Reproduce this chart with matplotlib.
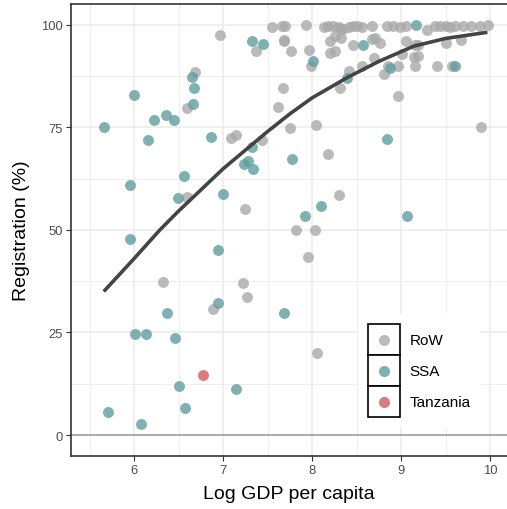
import matplotlib
matplotlib.use("Agg")
import matplotlib.pyplot as plt
from matplotlib.legend_handler import HandlerBase
from matplotlib.patches import Rectangle
from matplotlib.lines import Line2D

plt.rcParams['font.family'] = ['Liberation Sans', 'DejaVu Sans']

# ---------------- data ----------------
row_x = [6.60, 6.68, 6.97, 7.37, 7.68, 7.76, 7.97, 7.99, 8.20, 8.26, 8.33, 8.20, 8.26, 8.46,
         8.67, 8.71, 8.76, 8.70, 8.56, 8.42, 8.31, 8.81, 8.85, 8.97, 8.96, 9.06, 9.16, 9.19,
         9.01, 9.14, 9.19, 9.16, 9.40, 9.57, 9.51, 9.67, 9.29, 7.67, 7.62, 7.75, 8.04, 9.90,
         8.18, 8.30, 7.82, 8.03, 7.96, 8.05, 7.09, 7.15, 7.44, 7.25, 7.22, 7.27, 6.60, 6.33,
         6.89, 7.69,
         7.55, 7.66, 7.70, 7.93, 8.13, 8.18, 8.24, 8.30, 8.35, 8.41, 8.46, 8.50, 8.56, 8.67,
         8.84, 8.91, 8.99, 9.06, 9.38, 9.44, 9.51, 9.55, 9.61, 9.70, 9.78, 9.89, 9.98, 8.33]
row_y = [79.7, 88.4, 97.6, 93.6, 96.0, 93.6, 94.0, 90.1, 96.0, 97.2, 96.7, 93.1, 93.6, 95.2,
         96.6, 96.8, 95.5, 92.0, 90.1, 88.7, 84.6, 88.0, 90.1, 90.1, 82.6, 96.0, 95.0, 95.2,
         92.9, 92.1, 92.5, 89.9, 89.9, 89.9, 95.6, 96.4, 98.8, 84.6, 80.0, 74.8, 75.7, 75.0,
         68.5, 58.5, 50.0, 50.0, 43.3, 20.0, 72.4, 73.2, 72.0, 55.2, 37.0, 33.7, 58.0, 37.3,
         30.8, 96.2,
         99.6, 99.8, 99.8, 100.0, 99.4, 99.7, 99.8, 99.4, 99.0, 99.4, 99.7, 99.8, 99.6, 99.8,
         99.7, 99.8, 99.6, 99.8, 99.8, 99.8, 99.8, 99.6, 99.8, 99.8, 99.8, 99.8, 99.9, 98.9]

ssa_x = [5.66, 6.00, 6.23, 6.16, 6.36, 6.45, 6.66, 6.65, 6.67, 6.86, 7.33, 7.45, 8.01, 8.39,
         8.57, 9.17, 8.88, 9.61, 8.84, 7.78, 8.10, 7.92, 9.07, 7.69, 7.33, 7.23, 7.28, 7.34,
         7.00, 5.95, 6.56, 6.49, 5.95, 6.94, 6.94, 6.37, 6.01, 6.13, 6.46, 6.50, 7.15, 6.57,
         5.71, 6.08]
ssa_y = [75.2, 82.9, 76.7, 72.0, 78.0, 76.8, 80.7, 87.2, 84.7, 72.7, 96.0, 95.3, 91.1, 87.0,
         95.0, 100.0, 89.5, 89.9, 72.1, 67.2, 55.9, 53.5, 53.5, 29.8, 70.3, 66.1, 66.9, 64.9,
         58.7, 61.0, 63.2, 57.8, 47.9, 45.0, 32.2, 29.8, 24.6, 24.6, 23.6, 11.9, 11.2, 6.5,
         5.5, 2.8]

tz_x = [6.78]
tz_y = [14.6]

fit_x = [5.66, 6.0, 6.29, 6.5, 7.0, 7.5, 7.75, 8.0, 8.39, 8.75, 9.14, 9.5, 9.97]
fit_y = [35.0, 43.0, 50.0, 54.6, 64.9, 74.0, 78.3, 82.2, 87.1, 91.1, 94.8, 96.7, 98.2]

groups = ["RoW", "SSA", "Tanzania"]
colors = {"RoW": "darkgray", "SSA": "cadetblue", "Tanzania": "indianred"}
xticks = [6, 7, 8, 9, 10]
yticks = [0, 25, 50, 75, 100]

# ---------------- figure ----------------
fig = plt.figure(figsize=(5.07, 5.10), dpi=100)
ax = fig.add_axes([71/507, 1 - 457/510, 436/507, 452/510])

ax.set_xlim(5.292, 10.19)
ax.set_ylim(-5.12, 105.1)

ax.set_xticks(xticks)
ax.set_yticks(yticks)
ax.set_xticks([5.5, 6.5, 7.5, 8.5, 9.5], minor=True)
ax.set_yticks([12.5, 37.5, 62.5, 87.5], minor=True)
ax.grid(which='major', color='#EBEBEB', lw=1.1, zorder=0)
ax.grid(which='minor', color='#EBEBEB', lw=0.6, zorder=0)
ax.set_axisbelow(True)
ax.tick_params(which='minor', length=0)
ax.tick_params(which='major', length=3.5, width=0.8, color='#333333',
               labelsize=9.4, labelcolor='#4D4D4D', pad=2.5)

for s in ['left', 'bottom', 'top']:
    ax.spines[s].set_color('#333333')
    ax.spines[s].set_linewidth(1.2)
ax.spines['right'].set_visible(False)

ax.axhline(0, color='#A0A0A0', lw=1.2, zorder=1)

ms = 62
ax.scatter(row_x, row_y, s=ms, color=colors["RoW"], alpha=0.8, linewidths=0, zorder=2)
ax.scatter(ssa_x, ssa_y, s=ms, color=colors["SSA"], alpha=0.8, linewidths=0, zorder=3)
ax.scatter(tz_x, tz_y, s=ms, color=colors["Tanzania"], alpha=0.8, linewidths=0, zorder=4)

ax.plot(fit_x, fit_y, color='#444444', lw=2.6, solid_capstyle='butt', zorder=5)

ax.set_xlabel("Log GDP per capita", fontsize=14, labelpad=6)
ax.set_ylabel("Registration (%)", fontsize=14, labelpad=8)


class BoxedMarker(HandlerBase):
    def create_artists(self, legend, orig_handle, xdescent, ydescent, width, height,
                       fontsize, trans):
        rect = Rectangle((-xdescent, -ydescent), width, height, facecolor='white',
                         edgecolor='black', lw=1.2, transform=trans)
        dot = Line2D([width / 2 - xdescent], [height / 2 - ydescent], marker='o', ls='',
                     color=orig_handle.get_color(), alpha=0.8, ms=8, mew=0,
                     transform=trans)
        return [rect, dot]


handles = [Line2D([], [], color=colors[g]) for g in groups]
leg = ax.legend(handles, groups, handler_map={Line2D: BoxedMarker()},
                loc='lower left', bbox_to_anchor=(0.658, 0.064), borderaxespad=0,
                fontsize=11, handlelength=2.1, handleheight=2.74, labelspacing=0,
                handletextpad=0.65, borderpad=0.65, frameon=True, fancybox=False)
leg.get_frame().set_facecolor('white')
leg.get_frame().set_edgecolor('none')
leg.get_frame().set_alpha(1)
leg.set_zorder(6)

fig.savefig("out.png", dpi=100)
